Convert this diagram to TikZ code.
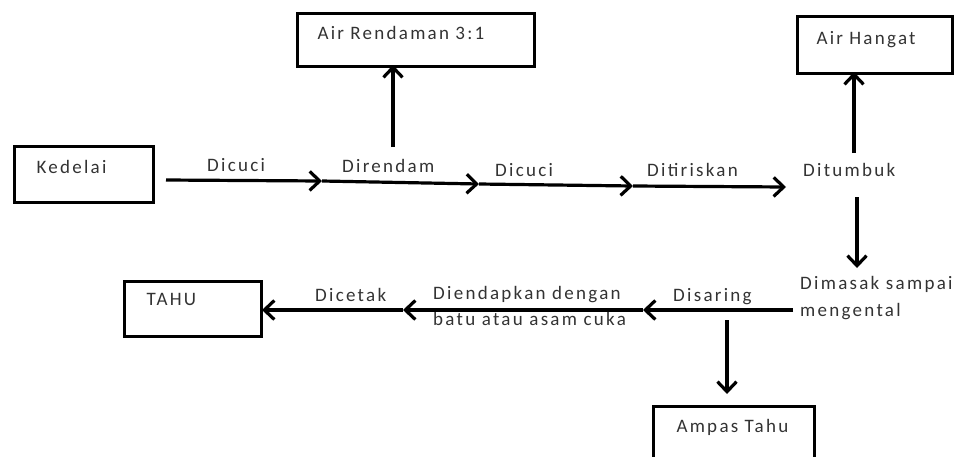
\documentclass[tikz,border=0pt]{standalone}
\usepackage{fontspec}
\setmainfont{Carlito}[LetterSpace=12]
\usetikzlibrary{arrows.meta}
\tikzset{
  box/.style={draw, line width=3pt, anchor=north west, inner ysep=0pt, align=left, font=\fontsize{19}{22}\selectfont, text=black!80},
  lbl/.style={anchor=base west, inner sep=0pt, font=\fontsize{19}{22}\selectfont, text=black!80},
  flow/.style={line width=3.2pt, -{Straight Barb[length=10pt,width=19pt,line width=3.2pt]}}
}
\begin{document}
\begin{tikzpicture}[x=1pt,y=-1pt]
\useasboundingbox (0,0) rectangle (964,456);
\clip (0,0) rectangle (964,456);
% boxes
\node[box, minimum width=139pt, inner xsep=22pt, text height=27pt, text depth=29pt, text width=95pt] (kedelai) at (13,145) {Kedelai};
\node[box, minimum width=237pt, inner xsep=20pt, text height=26pt, text depth=27pt, text width=197pt] (rendaman) at (296,12) {Air Rendaman 3:1};
\node[box, minimum width=155pt, inner xsep=19pt, text height=28pt, text depth=29pt, text width=117pt] (hangat) at (796,15) {Air Hangat};
\node[box, minimum width=137pt, inner xsep=22pt, text height=24pt, text depth=31pt, text width=93pt] (tahu) at (123,280) {TAHU};
\node[box, minimum width=161pt, inner xsep=23pt, text height=26pt, text depth=45pt, text width=115pt] (ampas) at (652,405) {Ampas Tahu};
% labels
\node[lbl] (l1) at (207,171) {Dicuci};
\node[lbl] (l2) at (342,172) {Direndam};
\node[lbl] (l3) at (495,176) {Dicuci};
\node[lbl] (l4) at (647,176) {Ditiriskan};
\node[lbl] (l5) at (803,176) {Ditumbuk};
\node[lbl] (l6) at (800,289) {Dimasak sampai};
\node[lbl] (l7) at (800,316) {mengental};
\node[lbl] (l8) at (673,301) {Disaring};
\node[lbl] (l9) at (433,299) {Diendapkan dengan};
\node[lbl] (l10) at (433,325) {batu atau asam cuka};
\node[lbl] (l11) at (315,301) {Dicetak};
% coordinates
\coordinate (p0) at (166,180);
\coordinate (p1) at (322,181);
\coordinate (p2) at (479,184);
\coordinate (p3) at (633,186);
\coordinate (p4) at (786,187);
\coordinate (u1) at (393,147);
\coordinate (u1t) at (393,65);
\coordinate (u2) at (854,153);
\coordinate (u2t) at (854,72);
\coordinate (d1) at (857,197);
\coordinate (d1t) at (857,268);
\coordinate (q0) at (793,310);
\coordinate (q1) at (643,310);
\coordinate (q2) at (403,310);
\coordinate (q3) at (262,310);
\coordinate (d2) at (727,320);
\coordinate (d2t) at (727,394);
% connectors
\draw[flow] (p0) -- (p1);
\draw[flow] (p1) -- (p2);
\draw[flow] (p2) -- (p3);
\draw[flow] (p3) -- (p4);
\draw[flow] (u1) -- (u1t);
\draw[flow] (u2) -- (u2t);
\draw[flow] (d1) -- (d1t);
\draw[flow] (q0) -- (q1);
\draw[flow] (q1) -- (q2);
\draw[flow] (q2) -- (q3);
\draw[flow] (d2) -- (d2t);
\end{tikzpicture}
\end{document}
